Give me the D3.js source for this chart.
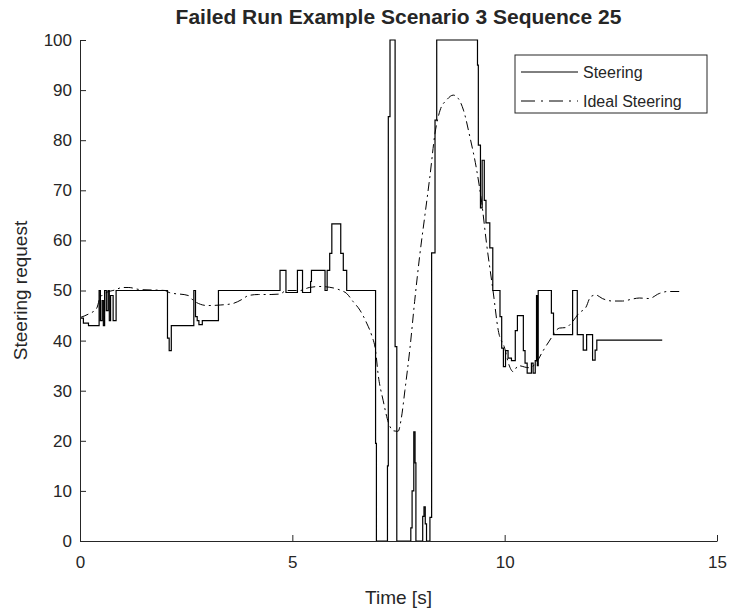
<!DOCTYPE html>
<html>
<head>
<meta charset="utf-8">
<script src="https://cdn.jsdelivr.net/npm/d3@7"></script>
<style>
  body { margin: 0; background: #fff; }
  text { font-family: "Liberation Sans", Arial, Helvetica, sans-serif; fill: #262626; }
</style>
</head>
<body>
<svg id="chart" width="733" height="610"></svg>
<script>
// Steering request (step signal)
const steerTime = [
  0.00, 0.08, 0.20, 0.45, 0.48, 0.52, 0.55, 0.58, 0.62, 0.66, 0.69, 0.72, 0.78, 0.85,
  2.06, 2.10, 2.15, 2.68, 2.72, 2.76, 2.80, 2.88, 3.26,
  4.71, 4.85, 5.12, 5.24, 5.43, 5.45, 5.77, 5.82, 5.88, 5.93, 6.14, 6.20, 6.28,
  6.96, 6.98, 7.24, 7.26, 7.30, 7.42, 7.46,
  7.79, 7.82, 7.86, 7.89, 7.91, 8.07, 8.10, 8.13, 8.16, 8.24, 8.28, 8.36, 8.40,
  9.36, 9.38, 9.43, 9.47, 9.52, 9.56, 9.65, 9.72,
  9.89, 9.93, 9.97, 10.02, 10.08, 10.16, 10.25, 10.30, 10.44, 10.48, 10.53, 10.63, 10.67,
  10.72, 10.75, 10.77, 10.79, 11.10, 11.15, 11.60, 11.71, 11.85, 11.93, 12.07, 12.13, 12.17,
  12.32, 13.71
];
const steerValue = [
  44.5, 43.5, 43.0, 50.0, 44.0, 48.0, 43.0, 50.0, 46.0, 50.0, 44.0, 49.0, 44.0, 50.0,
  40.5, 38.0, 43.0, 50.0, 44.8, 44.0, 43.2, 44.0, 50.0,
  54.0, 49.6, 54.0, 49.6, 51.8, 54.0, 50.0, 54.0, 57.4, 63.3, 57.4, 54.0, 50.0,
  19.5, 0.0, 15.0, 84.7, 100.0, 38.8, 0.0,
  2.6, 10.0, 21.8, 15.6, 0.0, 4.9, 6.8, 3.4, 0.0, 4.7, 57.5, 84.0, 100.0,
  95.0, 79.0, 66.5, 76.0, 68.0, 63.5, 58.5, 50.0,
  44.8, 38.5, 34.8, 38.0, 36.5, 36.0, 42.0, 45.0, 38.0, 35.5, 33.5, 35.5, 33.5,
  36.0, 49.0, 35.0, 50.0, 45.5, 41.2, 50.0, 41.2, 38.1, 41.2, 36.1, 38.1,
  40.1, 40.1
];

// Ideal steering reference
const idealTime = [
  0.00, 0.20, 0.39, 0.47, 0.60, 0.82, 1.00, 1.15, 1.40, 2.00, 2.10, 2.55, 2.67, 3.00,
  3.30, 3.60, 3.81, 3.97, 4.20, 4.50, 4.71, 4.86, 5.18, 5.40, 5.65, 5.97, 6.12, 6.28,
  6.43, 6.59, 6.75, 6.87, 6.96, 7.02, 7.14, 7.26, 7.38, 7.49, 7.57, 7.65, 7.77, 7.88,
  8.00, 8.12, 8.24, 8.36, 8.48, 8.63, 8.79, 8.91, 9.03, 9.18, 9.34, 9.46, 9.57, 9.73,
  9.85, 10.00, 10.10, 10.20, 10.32, 10.56, 10.71, 10.90, 11.05, 11.29, 11.44, 11.60,
  11.75, 11.91, 12.03, 12.15, 12.30, 12.54, 12.78, 13.01, 13.17, 13.40, 13.64, 13.84, 14.17
];
const idealValue = [
  44.6, 45.3, 46.4, 48.5, 49.5, 50.1, 50.6, 50.6, 50.2, 50.0, 49.6, 49.0, 48.0, 47.0,
  47.1, 47.4, 48.2, 49.0, 49.2, 49.2, 49.3, 50.0, 50.0, 50.6, 50.8, 50.5, 50.1, 49.4,
  47.8, 46.1, 43.5, 41.0, 38.0, 33.3, 28.0, 23.7, 22.0, 21.9, 24.7, 30.0, 38.5, 47.8,
  57.0, 64.9, 72.8, 81.4, 86.0, 88.0, 89.0, 88.3, 86.0, 80.7, 74.1, 67.5, 59.6, 49.7,
  42.0, 38.5, 35.2, 33.8, 35.0, 34.6, 35.2, 37.9, 39.9, 42.5, 42.6, 43.8,
  45.5, 46.6, 48.8, 49.1, 48.4, 47.9, 47.9, 48.3, 48.5, 48.4, 49.4, 49.8, 49.8
];

const xTicks = [0, 5, 10, 15];
const yTicks = [0, 10, 20, 30, 40, 50, 60, 70, 80, 90, 100];
const seriesNames = ["Steering", "Ideal Steering"];

const margin = { left: 80, right: 16, top: 40, bottom: 69 };
const W = 733, H = 610;
const svg = d3.select("#chart");

const x = d3.scaleLinear().domain([0, 15]).range([margin.left, W - margin.right]);
const y = d3.scaleLinear().domain([0, 100]).range([H - margin.bottom, margin.top]);

const steer = steerTime.map((t, i) => [t, steerValue[i]]);
const ideal = idealTime.map((t, i) => [t, idealValue[i]]);

// Data lines
svg.append("path")
  .datum(ideal)
  .attr("fill", "none")
  .attr("stroke", "#000")
  .attr("stroke-width", 1)
  .attr("stroke-dasharray", "9,4,2,4")
  .attr("d", d3.line().x(d => x(d[0])).y(d => y(d[1])).curve(d3.curveMonotoneX));

svg.append("path")
  .datum(steer)
  .attr("fill", "none")
  .attr("stroke", "#000")
  .attr("stroke-width", 1.2)
  .attr("d", d3.line().x(d => x(d[0])).y(d => y(d[1])).curve(d3.curveStepAfter));

// Axes with inward ticks
const xAxis = svg.append("g")
  .attr("transform", `translate(0,${y(0)})`)
  .call(d3.axisBottom(x).tickValues(xTicks).tickSizeInner(-6).tickSizeOuter(0).tickPadding(15));
const yAxis = svg.append("g")
  .attr("transform", `translate(${x(0)},0)`)
  .call(d3.axisLeft(y).tickValues(yTicks).tickSizeInner(-6).tickSizeOuter(0).tickPadding(8));

[xAxis, yAxis].forEach(g => {
  g.select(".domain").attr("stroke", "#262626").attr("stroke-width", 1);
  g.selectAll(".tick line").attr("stroke", "#262626");
  g.selectAll(".tick text")
    .style("font-family", '"Liberation Sans", Arial, sans-serif')
    .style("font-size", "17px")
    .attr("fill", "#262626");
});

// Titles
svg.append("text")
  .attr("x", (x(0) + x(15)) / 2)
  .attr("y", 24)
  .attr("text-anchor", "middle")
  .style("font-size", "21px")
  .style("font-weight", "bold")
  .attr("fill", "#000")
  .text("Failed Run Example Scenario 3 Sequence 25");

svg.append("text")
  .attr("x", (x(0) + x(15)) / 2)
  .attr("y", 604)
  .attr("text-anchor", "middle")
  .style("font-size", "19px")
  .text("Time [s]");

svg.append("text")
  .attr("transform", `translate(27,${(y(0) + y(100)) / 2}) rotate(-90)`)
  .attr("text-anchor", "middle")
  .style("font-size", "19px")
  .text("Steering request");

// Legend
const lg = svg.append("g").attr("transform", "translate(515,55)");
lg.append("rect")
  .attr("width", 192).attr("height", 58)
  .attr("fill", "#fff").attr("stroke", "#262626").attr("stroke-width", 1);
seriesNames.forEach((name, i) => {
  const yy = 17 + i * 29;
  lg.append("line")
    .attr("x1", 6).attr("x2", 63).attr("y1", yy).attr("y2", yy)
    .attr("stroke", "#000").attr("stroke-width", 1)
    .attr("stroke-dasharray", i === 1 ? "14,6,2,6" : null);
  lg.append("text")
    .attr("x", 68).attr("y", yy + 6)
    .style("font-size", "16px")
    .text(name);
});
</script>
</body>
</html>
